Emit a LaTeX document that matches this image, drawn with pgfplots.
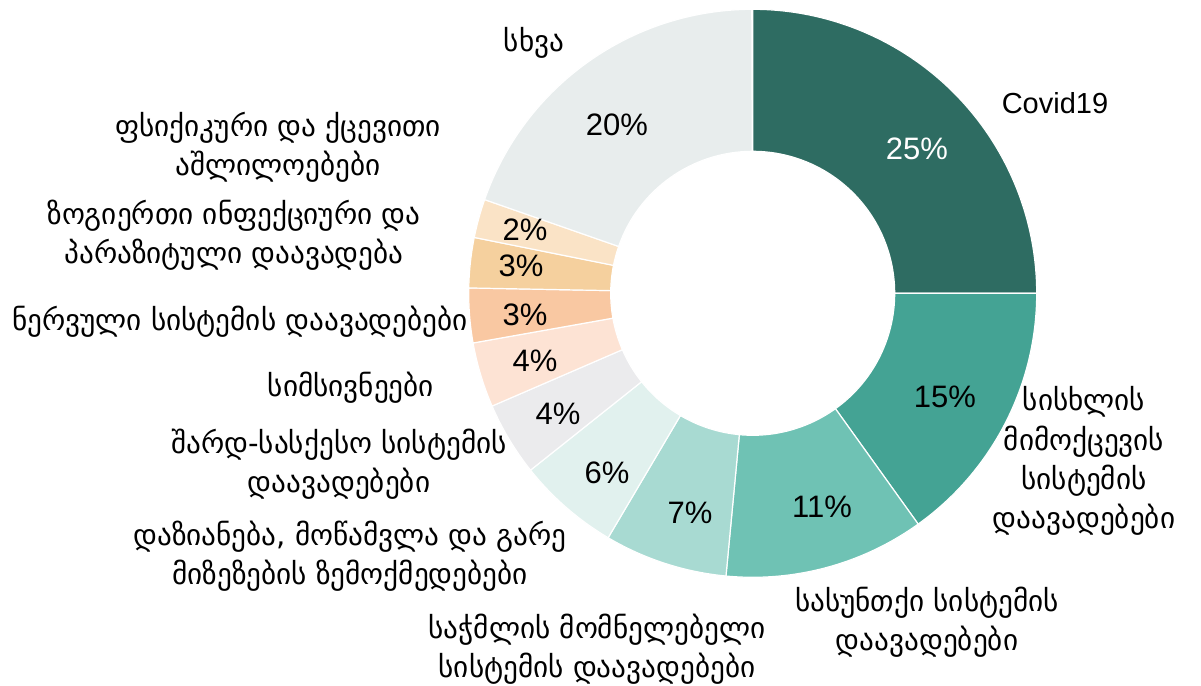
\documentclass[border=0pt]{standalone}
\usepackage{pgfplots}
\pgfplotsset{compat=1.18}
\usepackage{pgfplotstable}
\usepackage{fontspec}
\setmainfont{Liberation Sans}
\newfontfamily\geo{DejaVu Sans}
\definecolor{c1}{RGB}{46,108,98}
\definecolor{c2}{RGB}{68,163,148}
\definecolor{c3}{RGB}{111,194,180}
\definecolor{c4}{RGB}{168,218,210}
\definecolor{c5}{RGB}{225,241,238}
\definecolor{c6}{RGB}{235,235,237}
\definecolor{c7}{RGB}{253,227,212}
\definecolor{c8}{RGB}{249,200,162}
\definecolor{c9}{RGB}{245,208,158}
\definecolor{c10}{RGB}{250,227,198}
\definecolor{c11}{RGB}{232,237,237}
\pgfplotstableread{
val col lx ly lab tc
25.0 c1 917 149 25 white
15.1 c2 945 397 15 black
11.4 c3 822 507 11 black
7.0 c4 690 513 7 black
5.8 c5 607 473 6 black
4.2 c6 558 414 4 black
3.7 c7 535 361 4 black
3.1 c8 525 315 3 black
2.85 c9 521 266 3 black
2.2 c10 525 230 2 black
19.6 c11 617 125 20 black
}\slices
\begin{document}
\begin{tikzpicture}
\begin{axis}[x=0.5pt,y=0.5pt,xmin=0,xmax=1201,ymin=0,ymax=686,
  hide axis,scale only axis,clip=false]
\path (axis cs:0,0) rectangle (axis cs:1201,686);
\def\cx{752.7}\def\cy{392.7}
\def\cum{0}
\pgfplotsforeachungrouped \i in {0,...,10}{%
  \pgfplotstablegetelem{\i}{val}\of\slices \let\v\pgfplotsretval
  \pgfplotstablegetelem{\i}{col}\of\slices \let\c\pgfplotsretval
  \pgfmathsetmacro\aone{90-3.6*\cum}%
  \pgfmathsetmacro\atwo{90-3.6*(\cum+\v)}%
  \pgfmathsetmacro\xa{\cx+284*cos(\aone)}%
  \pgfmathsetmacro\ya{\cy+284*sin(\aone)}%
  \pgfmathsetmacro\xb{\cx+142*cos(\atwo)}%
  \pgfmathsetmacro\yb{\cy+142*sin(\atwo)}%
  \edef\temp{\noexpand\fill[fill=\c,draw=white,line width=0.6pt]
    (axis cs:\xa,\ya) arc[start angle=\aone,end angle=\atwo,radius=142pt]
    -- (axis cs:\xb,\yb) arc[start angle=\atwo,end angle=\aone,radius=71pt] -- cycle;}%
  \temp
  \pgfmathsetmacro\cum{\cum+\v}%
  \global\let\cum\cum
}
\pgfplotsforeachungrouped \i in {0,...,10}{%
  \pgfplotstablegetelem{\i}{lx}\of\slices \let\lx\pgfplotsretval
  \pgfplotstablegetelem{\i}{ly}\of\slices \let\ly\pgfplotsretval
  \pgfplotstablegetelem{\i}{lab}\of\slices \let\lab\pgfplotsretval
  \pgfplotstablegetelem{\i}{tc}\of\slices \let\tc\pgfplotsretval
  \pgfmathsetmacro\yy{686-\ly}%
  \edef\temp{\noexpand\node[text=\tc,font=\noexpand\fontsize{15.5}{18}\noexpand\selectfont] at (axis cs:\lx,\yy) {\lab\noexpand\%};}%
  \temp
}
\tikzset{gl/.style={font=\geo\fontsize{14.6}{19.6}\selectfont,align=center,inner sep=0pt}}
\node[gl] at (axis cs:534,643) {სხვა};
\node[gl] at (axis cs:278,539) {ფსიქიკური და ქცევითი\\აშლილოებები};
\node[gl] at (axis cs:234,451) {ზოგიერთი ინფექციური და\\პარაზიტული დაავადება};
\node[gl] at (axis cs:240,364) {ნერვული სისტემის დაავადებები};
\node[gl] at (axis cs:351,298) {სიმსივნეები};
\node[gl] at (axis cs:339,222) {შარდ-სასქესო სისტემის\\დაავადებები};
\node[gl] at (axis cs:350,130) {დაზიანება, მოწამვლა და გარე\\მიზეზების ზემოქმედებები};
\node[gl] at (axis cs:597,37) {საჭმლის მომნელებელი\\სისტემის დაავადებები};
\node[gl] at (axis cs:927,64) {სასუნთქი სისტემის\\დაავადებები};
\node[gl] at (axis cs:1084,225) {სისხლის\\მიმოქცევის\\სისტემის\\დაავადებები};
\node[font=\fontsize{14.5}{17}\selectfont] at (axis cs:1055,583) {Covid19};
\end{axis}
\end{tikzpicture}
\end{document}
